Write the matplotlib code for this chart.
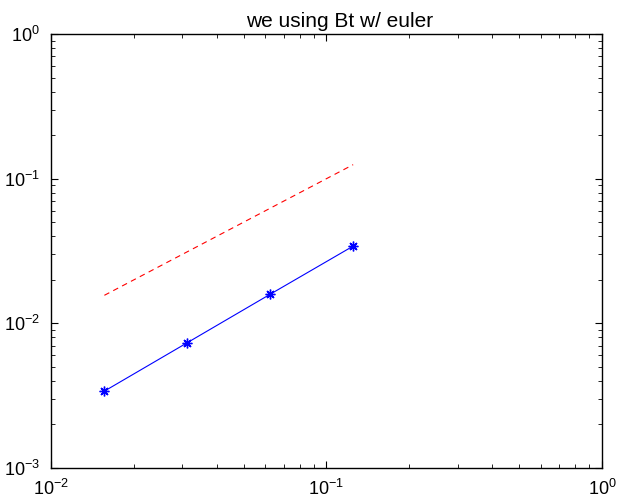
import numpy as np
import matplotlib
matplotlib.use("Agg")
import matplotlib.pyplot as plt

# step sizes and errors
h = [1/64, 1/32, 1/16, 1/8]
err = [0.0034, 0.00735, 0.0159, 0.0342]
ref = [1/64, 1/32, 1/16, 1/8]   # slope-1 reference line

plt.rcParams['font.family'] = ['Liberation Sans', 'DejaVu Sans']

fig = plt.figure(figsize=(6.18, 4.98), dpi=100)
ax = fig.add_axes([0.0825, 0.0602, 0.8915, 0.8715])

# matlab style asterisk marker
ax.loglog(h, err, 'b-', marker=(8, 2, 0), lw=0.8, ms=7, mew=1.0)
ax.loglog(h, ref, 'r--', lw=0.8, dashes=(5, 4))

ax.set_xlim(1e-2, 1e0)
ax.set_ylim(1e-3, 1e0)
ax.set_xticks([1e-2, 1e-1, 1e0])
ax.set_yticks([1e-3, 1e-2, 1e-1, 1e0])
ax.tick_params(which='both', direction='in', top=True, right=True, labelsize=13)
ax.tick_params(which='major', length=5, pad=8)
ax.tick_params(which='minor', length=3)
for s in ax.spines.values():
    s.set_linewidth(1.0)

ax.set_title("we using Bt w/ euler", fontsize=15, pad=5, x=0.524)

fig.savefig("out.png", dpi=100)
